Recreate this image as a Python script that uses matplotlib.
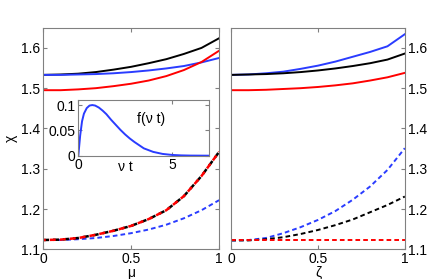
import matplotlib
matplotlib.use("Agg")
import matplotlib.pyplot as plt

# data
mu = [0, 0.1, 0.2, 0.3, 0.4, 0.5, 0.6, 0.7, 0.8, 0.9, 1.0]
left_black = [1.533, 1.534, 1.536, 1.540, 1.546, 1.553, 1.562, 1.572, 1.585, 1.600, 1.624]
left_blue = [1.533, 1.533, 1.534, 1.535, 1.537, 1.540, 1.544, 1.549, 1.555, 1.564, 1.575]
left_red = [1.495, 1.495, 1.497, 1.500, 1.505, 1.511, 1.519, 1.530, 1.545, 1.565, 1.593]
left_red_dash = [1.123, 1.124, 1.128, 1.136, 1.146, 1.158, 1.175, 1.197, 1.232, 1.282, 1.342]
left_blue_dash = [1.123, 1.123, 1.125, 1.128, 1.133, 1.140, 1.149, 1.161, 1.177, 1.197, 1.222]

zeta = [0, 0.1, 0.2, 0.3, 0.4, 0.5, 0.6, 0.7, 0.8, 0.9, 1.0]
right_blue = [1.533, 1.534, 1.537, 1.541, 1.548, 1.556, 1.566, 1.578, 1.590, 1.604, 1.634]
right_black = [1.533, 1.534, 1.535, 1.537, 1.540, 1.544, 1.549, 1.555, 1.562, 1.571, 1.586]
right_red = [1.495, 1.495, 1.496, 1.498, 1.500, 1.503, 1.507, 1.512, 1.519, 1.527, 1.538]
right_blue_dash = [1.122, 1.123, 1.128, 1.140, 1.155, 1.173, 1.195, 1.223, 1.256, 1.297, 1.351]
right_black_dash = [1.122, 1.122, 1.125, 1.130, 1.138, 1.148, 1.160, 1.174, 1.192, 1.210, 1.231]
right_red_dash = [1.122] * 11

nu_t = [0, 0.1, 0.2, 0.3, 0.45, 0.6, 0.75, 0.9, 1.1, 1.3, 1.5, 1.75, 2, 2.25, 2.5,
        2.75, 3, 3.5, 4, 4.5, 5, 5.5, 6, 7]
f_nu_t = [0, 0.04, 0.068, 0.083, 0.094, 0.099, 0.1, 0.099, 0.095, 0.089, 0.082, 0.071,
          0.061, 0.051, 0.042, 0.034, 0.027, 0.0145, 0.0075, 0.0035, 0.0015, 0.0006,
          0.0002, 0]

BLUE = '#2a3cff'
DASH = (0, (2.4, 1.6))
LW = 1.4
plt.rcParams['font.family'] = ['Liberation Sans', 'DejaVu Sans']
plt.rcParams['font.size'] = 10

fig = plt.figure(figsize=(4.36, 2.79), dpi=100)


def style(ax):
    for s in ax.spines.values():
        s.set_color('#808080')
        s.set_linewidth(0.8)
    ax.tick_params(direction='in', top=True, right=True, length=3,
                   color='#808080', pad=2)


ax1 = fig.add_axes([0.0986, 0.1065, 0.404, 0.794])
ax1.plot(mu, left_black, color='k', lw=LW)
ax1.plot(mu, left_blue, color=BLUE, lw=LW)
ax1.plot(mu, left_red, color='r', lw=LW)
ax1.plot(mu, left_blue_dash, color=BLUE, lw=LW, ls=DASH)
ax1.plot(mu, left_red_dash, color='k', lw=LW + 0.4, ls=DASH)
ax1.plot(mu, left_red_dash, color='r', lw=LW + 0.4, ls=(1.3, (2.4, 1.6)))
ax1.set_xlim(0, 1)
ax1.set_ylim(1.1, 1.65)
ax1.set_xticks([0, 0.5, 1])
ax1.set_xticklabels(['0', '0.5', '1'])
ax1.set_yticks([1.1, 1.2, 1.3, 1.4, 1.5, 1.6])
ax1.set_xlabel('μ', labelpad=0)
ax1.set_ylabel('χ', labelpad=2)
style(ax1)

ax2 = fig.add_axes([0.5305, 0.1065, 0.398, 0.794])
ax2.plot(zeta, right_blue, color=BLUE, lw=LW)
ax2.plot(zeta, right_black, color='k', lw=LW)
ax2.plot(zeta, right_red, color='r', lw=LW)
ax2.plot(zeta, right_blue_dash, color=BLUE, lw=LW, ls=DASH)
ax2.plot(zeta, right_black_dash, color='k', lw=LW, ls=DASH)
ax2.plot(zeta, right_red_dash, color='r', lw=LW, ls=DASH)
ax2.set_xlim(0, 1)
ax2.set_ylim(1.1, 1.65)
ax2.set_xticks([0, 0.5, 1])
ax2.set_xticklabels(['0', '0.5', '1'])
ax2.set_yticks([1.1, 1.2, 1.3, 1.4, 1.5, 1.6])
ax2.yaxis.tick_right()
ax2.set_xlabel('ζ', labelpad=0)
style(ax2)
ax2.tick_params(labelleft=False, labelright=True)

ax3 = fig.add_axes([0.1796, 0.442, 0.3005, 0.1996])
ax3.plot(nu_t, f_nu_t, color=BLUE, lw=LW)
ax3.set_xlim(0, 7)
ax3.set_ylim(0, 0.11)
ax3.set_xticks([0, 5])
ax3.set_yticks([0, 0.05, 0.1])
ax3.set_yticklabels(['0', '0.05', '0.1'])
ax3.set_xlabel('ν t')
ax3.xaxis.set_label_coords(0.36, -0.08, transform=ax3.transAxes)
ax3.xaxis.label.set_va('top')
ax3.text(3.9, 0.072, 'f(ν t)', ha='center', va='center')
style(ax3)

fig.savefig('out.png', dpi=100)
